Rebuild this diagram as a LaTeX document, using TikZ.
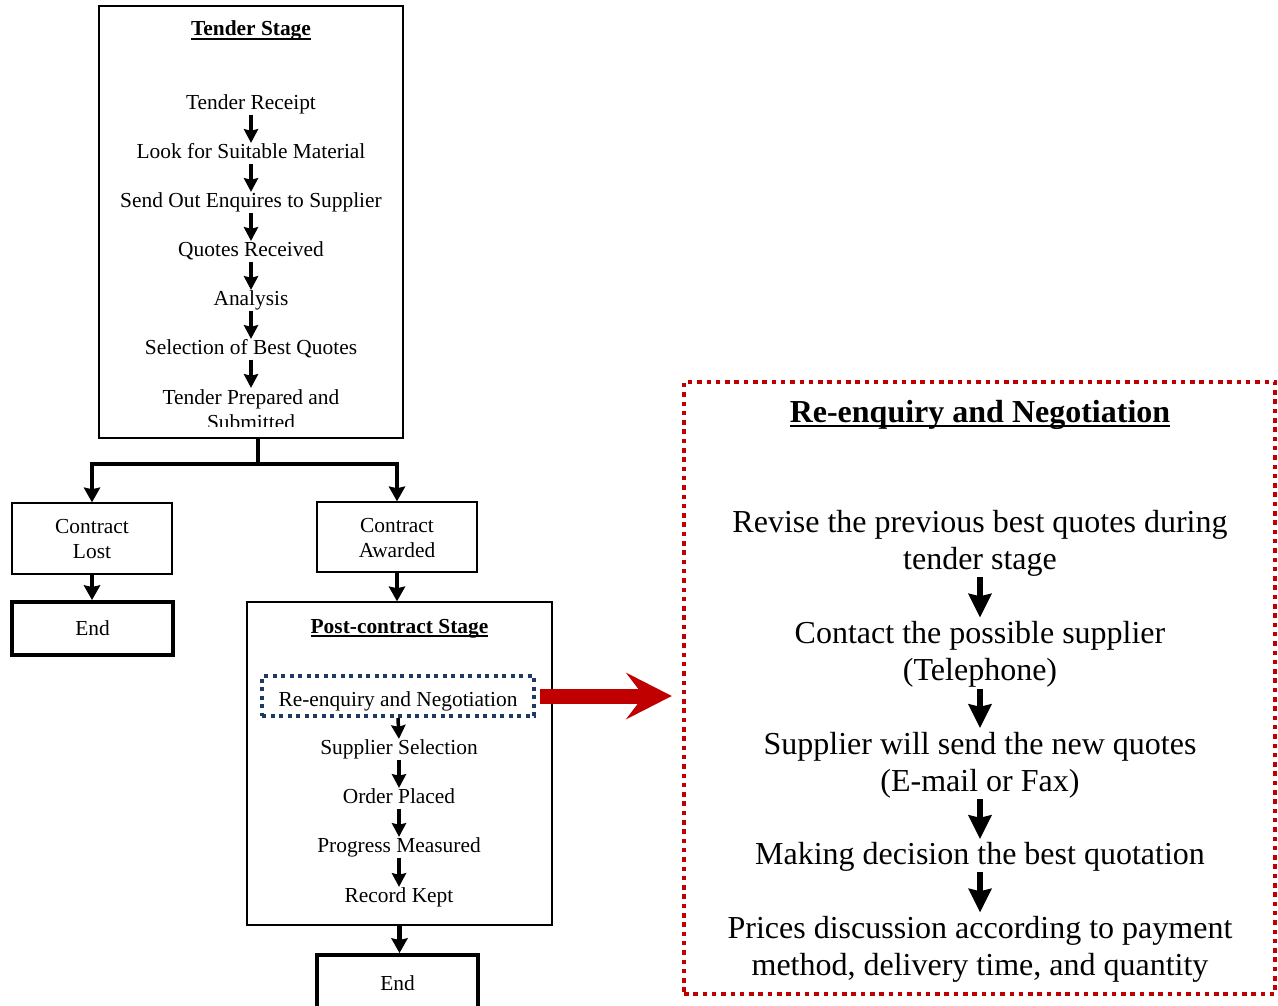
\documentclass[tikz,border=0pt]{standalone}
\usepackage{fontspec}
\setmainfont{Liberation Serif}
\usetikzlibrary{arrows.meta}
\definecolor{dred}{HTML}{C00000}
\definecolor{navy}{HTML}{1F3864}
\newcommand\myul[1]{\setbox0\hbox{#1}\rlap{\rule[-0.17em]{\wd0}{0.065em}}\box0}
\begin{document}
\begin{tikzpicture}[x=1pt,y=-1pt,
  box/.style={draw, line width=1.5pt, rectangle, inner sep=0pt},
  thickbox/.style={draw, line width=4pt, rectangle, inner sep=0pt},
  sm/.style={font=\fontsize{21.4}{25}\selectfont, inner sep=0pt, align=center},
  sm1/.style={sm, text height=14pt, text depth=5pt},
  bg/.style={font=\fontsize{32}{37}\selectfont, inner sep=0pt, align=center},
  bg1/.style={bg, text height=21pt, text depth=7pt},
  sarr/.style={line width=3.5pt, -{Stealth[width=15pt,length=14pt,inset=2pt,line width=0pt]}, shorten >=1.5pt},
  barr/.style={line width=6.5pt, -{Stealth[width=24pt,length=24pt,inset=3pt,line width=0pt]}, shorten <=1pt, shorten >=4pt},
  carr/.style={line width=4.5pt, -{Stealth[width=17pt,length=15pt,inset=2pt,line width=0pt]}},
]
\useasboundingbox (0,0) rectangle (1278,1006);

% ---------- Tender stage ----------
\node[box, line width=2pt, minimum width=304pt, minimum height=432pt] (tender) at (251,222) {};
\node[sm, anchor=base, font=\fontsize{21.4}{25}\selectfont\bfseries] (ttitle) at (251,36) {\myul{Tender Stage}};
\node[sm1] (t1) at (251,105) {Tender Receipt};
\node[sm1] (t2) at (251,154) {Look for Suitable Material};
\node[sm1] (t3) at (251,203) {Send Out Enquires to Supplier};
\node[sm1] (t4) at (251,252) {Quotes Received};
\node[sm1] (t5) at (251,301) {Analysis};
\node[sm1] (t6) at (251,350) {Selection of Best Quotes};
\begin{scope}
  \clip (100,7) rectangle (402,426);
  \node[sm] (t7) at (251,409.5) {Tender Prepared and\\Submitted};
\end{scope}
\draw[sarr] (t1.south) -- (t2.north);
\draw[sarr] (t2.south) -- (t3.north);
\draw[sarr] (t3.south) -- (t4.north);
\draw[sarr] (t4.south) -- (t5.north);
\draw[sarr] (t5.south) -- (t6.north);
\draw[sarr] (t6.south) -- (t7.north);

% ---------- Contract boxes ----------
\node[box, minimum width=160pt, minimum height=71pt] (lost) at (92,538.5) {};
\node[sm] (lostt) at (92,539) {Contract\\Lost};
\node[box, minimum width=160pt, minimum height=70pt] (award) at (397,537) {};
\node[sm] (awardt) at (397,538) {Contract\\Awarded};
\node[thickbox, minimum width=161pt, minimum height=53pt, font=\fontsize{21.4}{25}\selectfont] (end1) at (92.5,628.5) {End};

\coordinate (j) at (258,464);
\draw[line width=4.5pt] (tender.south -| j) -- (j);
\draw[carr] (j) -| (lost.north);
\draw[carr] (j) -| (award.north);
\draw[carr] (lost.south) -- (lost.south |- end1.north);

% ---------- Post-contract stage ----------
\node[box, minimum width=305pt, minimum height=323pt] (post) at (399.5,763.5) {};
\draw[carr] (award.south) -- (award.south |- post.north);
\node[sm, anchor=base, font=\fontsize{21.4}{25}\selectfont\bfseries] (ptitle) at (399.5,633) {\myul{Post-contract Stage}};
\node[sm, draw=navy, line width=4pt, dash pattern=on 4pt off 4.5pt,
      minimum width=272pt, minimum height=40pt, text height=20pt, text depth=0pt] (reneg) at (398,696) {Re-enquiry and Negotiation};
\node[sm1] (p2) at (399,750) {Supplier Selection};
\node[sm1] (p3) at (399,799) {Order Placed};
\node[sm1] (p4) at (399,848) {Progress Measured};
\node[sm1] (p5) at (399,898) {Record Kept};
\draw[sarr] (reneg.south) -- (p2.north);
\draw[sarr] (p2.south) -- (p3.north);
\draw[sarr] (p3.south) -- (p4.north);
\draw[sarr] (p4.south) -- (p5.north);
\node[thickbox, minimum width=161pt, minimum height=56pt, font=\fontsize{21.4}{25}\selectfont] (end2) at (397.5,983) {End};
\draw[carr] (post.south) -- (post.south |- end2.north);

% ---------- Re-enquiry panel ----------
\node[draw=dred, line width=4.5pt, dash pattern=on 4.5pt off 4.8pt, rectangle,
      minimum width=591pt, minimum height=612pt] (rbox) at (979.5,688) {};
\node[bg, anchor=base, font=\fontsize{32}{37}\selectfont\bfseries] (rtitle) at (980,422) {\myul{Re-enquiry and Negotiation}};
\node[bg] (r1) at (980,543) {Revise the previous best quotes during\\tender stage};
\node[bg] (r2) at (980,654.5) {Contact the possible supplier\\(Telephone)};
\node[bg] (r3) at (980,765) {Supplier will send the new quotes\\(E-mail or Fax)};
\node[bg1] (r4) at (980,857) {Making decision the best quotation};
\node[bg] (r5) at (980,949.5) {Prices discussion according to payment\\method, delivery time, and quantity};
\draw[barr] (r1.south) -- (r2.north);
\draw[barr] (r2.south) -- (r3.north);
\draw[barr] (r3.south) -- (r4.north);
\draw[barr] (r4.south) -- (r5.north);

% ---------- red arrow ----------
\draw[dred, line width=15pt, shorten <=4pt, shorten >=10pt,
      -{Stealth[length=46pt,width=47pt,inset=18pt,line width=0pt]}]
  (reneg.east) -- (reneg.east -| rbox.west);
\end{tikzpicture}
\end{document}
